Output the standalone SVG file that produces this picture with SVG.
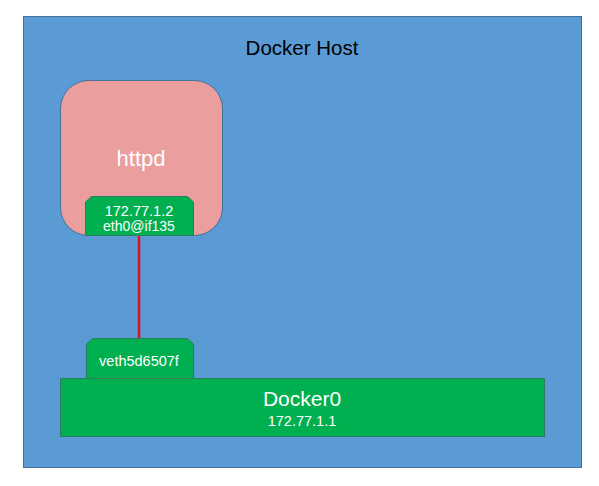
<svg xmlns="http://www.w3.org/2000/svg" width="599" height="486" viewBox="0 0 599 486">
<style>
.t{font-family:"Liberation Sans","Open Sans",sans-serif;fill:#fff;text-anchor:middle}
.g{fill:#00B050;stroke:#2E7C5E;stroke-width:1}
</style>
<rect width="599" height="486" fill="#fff"/>
<g id="docker-host">
<rect x="23.5" y="16.5" width="558" height="451" fill="#5B9BD5" stroke="#41719C" stroke-width="1"/>
<text x="302" y="55" font-family="Liberation Sans, Open Sans, sans-serif" font-size="20.5" fill="#000" text-anchor="middle">Docker Host</text>
</g>
<g id="connectors">
<line x1="139" y1="235" x2="139" y2="338" stroke="#E0101E" stroke-width="2.5"/>
</g>
<g id="httpd">
<rect x="60.5" y="80.5" width="162" height="155" rx="28" fill="#EA9E9E" stroke="#41719C" stroke-width="1"/>
<text class="t" x="141" y="166" font-size="22">httpd</text>
</g>
<g id="eth0">
<path class="g" d="M85.5 235.5 V202 L91.5 196.5 H187.5 L193.5 202 V235.5 Z"/>
<text class="t" x="139" y="216" font-size="14.5">172.77.1.2</text>
<text class="t" x="139" y="231" font-size="14">eth0@if135</text>
</g>
<g id="veth">
<path class="g" d="M86.5 378.5 V344 L92.5 338.5 H187.5 L193.5 344 V378.5 Z"/>
<text class="t" x="139" y="366" font-size="14.5">veth5d6507f</text>
</g>
<g id="docker0">
<rect class="g" x="60.5" y="378.5" width="484" height="58"/>
<text class="t" x="302" y="406" font-size="21">Docker0</text>
<text class="t" x="302" y="426" font-size="14.5">172.77.1.1</text>
</g>
</svg>
